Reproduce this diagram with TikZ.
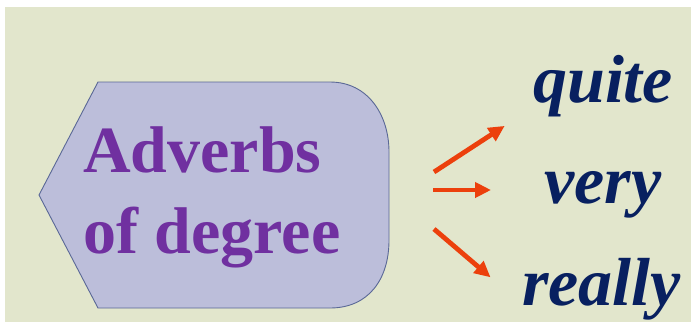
\documentclass[tikz,border=0pt]{standalone}
\usepackage{fontspec}
\setmainfont{Liberation Serif}
\usetikzlibrary{arrows.meta}
\definecolor{bg}{RGB}{226,230,204}
\definecolor{lav}{RGB}{188,190,218}
\definecolor{lavline}{RGB}{90,104,150}
\definecolor{purp}{RGB}{112,48,160}
\definecolor{navy}{RGB}{8,32,96}
\definecolor{arr}{RGB}{236,64,12}
\tikzset{
  bigtext/.style={font=\fontsize{66}{81}\selectfont\bfseries, text=purp, align=left, inner sep=0pt},
  word/.style={font=\fontsize{68}{72}\selectfont\bfseries\itshape, text=navy, inner sep=0pt, anchor=base west},
  redarrow/.style={draw=arr, line width=4.8pt, -{Triangle[length=16pt,width=15pt]}, shorten >=-2pt}
}
\begin{document}
\begin{tikzpicture}[x=1pt,y=-1pt]
\useasboundingbox (0,0) rectangle (691,322);
\fill[white] (0,0) rectangle (691,322);
\fill[bg] (5,7) rectangle (691,322);
% shape
\draw[fill=lav, draw=lavline, line width=0.9pt]
  (39,195) -- (98,82) -- (330,82)
  .. controls (368,82) and (389,115) .. (389,152)
  -- (389,240)
  .. controls (389,280) and (368,308) .. (330,308)
  -- (98,308) -- cycle;
\node[bigtext, anchor=base west] (l1) at (83,172) {Adverbs};
\node[bigtext, anchor=base west] (l2) at (83,253) {of degree};
% words
\node[word] (q) at (533,102) {quite};
\node[word] (v) at (544,203) {very};
\node[word] (r) at (522,305) {really};
% arrows
\coordinate (a1s) at (434,172);
\coordinate (a1e) at (503,127);
\coordinate (a2s) at (433,190);
\coordinate (a2e) at (489,190);
\coordinate (a3s) at (434,229);
\coordinate (a3e) at (489,276);
\draw[redarrow] (a1s) -- (a1e);
\draw[redarrow] (a2s) -- (a2e);
\draw[redarrow] (a3s) -- (a3e);
\end{tikzpicture}
\end{document}
